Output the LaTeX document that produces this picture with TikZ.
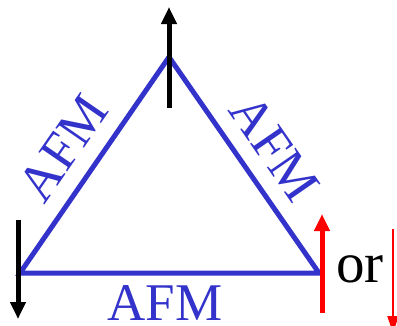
\documentclass[tikz,border=0pt]{standalone}
\usepackage{fontspec}
\setmainfont{Liberation Serif}
\usetikzlibrary{arrows.meta}
\definecolor{afmblue}{RGB}{51,51,204}
\definecolor{spinred}{RGB}{255,0,0}
\tikzset{
  edge/.style={draw=afmblue, line width=5pt, line join=miter},
  lbl/.style={text=afmblue, font=\fontsize{53}{60}\selectfont, inner sep=0pt},
  spin/.style={line width=5pt, -{Triangle[width=15pt,length=17pt]}},
  spinsmall/.style={line width=2.2pt, -{Triangle[width=11pt,length=17pt]}},
}
\begin{document}
\begin{tikzpicture}[x=1pt,y=-1pt]
\useasboundingbox (0,0) rectangle (397,325);
\coordinate (L) at (20,273);
\coordinate (T) at (169,57);
\coordinate (R) at (319,273);
\draw[edge] (L) -- (T) -- (R) -- cycle;
% spins
\coordinate (ts) at (169,108);
\coordinate (te) at (169,7);
\coordinate (ls) at (18,220);
\coordinate (le) at (18,319);
\coordinate (rs) at (322,313);
\coordinate (re) at (322,214);
\coordinate (xs) at (393,229);
\coordinate (xe) at (393,333);
\draw[spin, black] (ts) -- (te);
\draw[spin, black] (ls) -- (le);
\draw[spin, spinred] (rs) -- (re);
\draw[spinsmall, spinred] (xs) -- (xe);
% labels
\node[lbl, rotate=55.4] (al) at (63,148) {AFM};
\node[lbl, rotate=-55.3] (ar) at (275,148) {AFM};
\node[lbl, anchor=base] (ab) at (165,320) {AFM};
\node[font=\fontsize{57}{60}\selectfont, inner sep=0pt, anchor=base west] (or) at (336,282) {or};
\end{tikzpicture}
\end{document}
